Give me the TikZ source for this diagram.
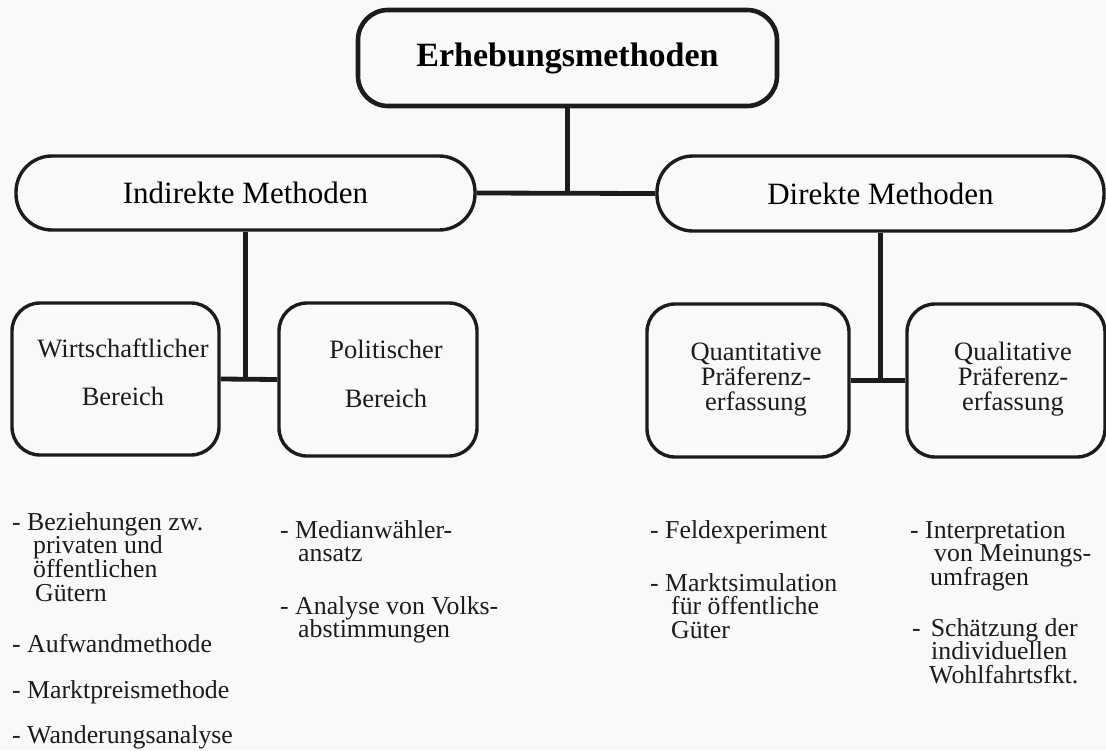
\documentclass[tikz,border=0pt]{standalone}
\usepackage{fontspec}
\setmainfont{Liberation Serif}
\definecolor{ink}{RGB}{28,28,28}
\definecolor{paper}{RGB}{249,249,247}
\newcommand\dfFont[2]{\fontsize{#1}{#2}\selectfont\lineskiplimit=-100pt\lineskip=0pt}
\newcommand\dfStrut{\rule{0pt}{24pt}}
\begin{document}
\begin{tikzpicture}[x=1pt,y=-1pt,
  box/.style={draw=ink, line width=3.4pt, rounded corners=28pt, inner sep=0pt},
  pill/.style={draw=ink, line width=3.4pt, rounded corners=36pt, inner sep=0pt, font=\dfFont{31}{31}},
  conn/.style={draw=ink, line width=4.8pt},
  boxtxt/.style={inner sep=0pt, anchor=north, align=center, text=ink},
  item/.style={inner sep=0pt, anchor=north west, align=left, text=ink, font=\dfFont{25.8}{23.6}}
]
\fill[paper] (0,0) rectangle (1106,750);
\useasboundingbox (0,0) rectangle (1106,750);

% top
\node[box, line width=4.6pt, rounded corners=30pt, minimum width=419pt, minimum height=96pt,
      font=\bfseries\dfFont{34}{34}] (top) at (567.5,58) {Erhebungsmethoden};

% second level
\node[pill, minimum width=459pt, minimum height=74pt] (ind) at (245.5,193) {Indirekte Methoden};
\node[pill, minimum width=447pt, minimum height=75pt] (dir) at (880.5,193.5) {Direkte Methoden};

% third level boxes
\node[box, minimum width=207pt, minimum height=152pt] (wb) at (115.5,379) {};
\node[box, minimum width=198pt, minimum height=153pt] (pb) at (378,379.5) {};
\node[box, minimum width=202pt, minimum height=153pt] (qb) at (748,380.5) {};
\node[box, minimum width=198pt, minimum height=153pt] (lb) at (1006,380.5) {};

\node[boxtxt, font=\dfFont{26.5}{48}] (wt) at (123,333) {\dfStrut Wirtschaftlicher\\Bereich};
\node[boxtxt, font=\dfFont{26.5}{49}] (pt) at (386,334) {\dfStrut Politischer\\Bereich};
\node[boxtxt, font=\dfFont{26.5}{25}] (qt) at (756,336) {\dfStrut Quantitative\\Präferenz-\\erfassung};
\node[boxtxt, font=\dfFont{26.5}{25}] (lt) at (1013,336) {\dfStrut Qualitative\\Präferenz-\\erfassung};

% connectors
\draw[conn] (ind.east) -- (dir.west);
\draw[conn] (top.south) -- (top.south |- ind.east);
\draw[conn] (wb.east) -- (pb.west);
\draw[conn] (ind.south) -- (ind.south |- wb.east);
\draw[conn] (qb.east) -- (lb.west);
\draw[conn] (dir.south) -- (dir.south |- qb.east);

% lists
\node[item] (l1) at (12,506) {\dfStrut- Beziehungen zw.\\\hspace*{21pt}privaten und\\\hspace*{21pt}öffentlichen\\\hspace*{23pt}Gütern};
\node[item] (l2) at (12,628) {\dfStrut- Aufwandmethode};
\node[item] (l3) at (12,674) {\dfStrut- Marktpreismethode};
\node[item] (l4) at (12,719) {\dfStrut- Wanderungsanalyse};

\node[item] (m1) at (280,514) {\dfStrut- Medianwähler-\\\hspace*{18pt}ansatz};
\node[item] (m2) at (280,590) {\dfStrut- Analyse von Volks-\\\hspace*{18pt}abstimmungen};

\node[item] (r1) at (650,514) {\dfStrut- Feldexperiment};
\node[item] (r2) at (650,567) {\dfStrut- Marktsimulation\\\hspace*{21pt}für öffentliche\\\hspace*{21pt}Güter};

\node[item] (s1) at (910,514) {\dfStrut- Interpretation\\\hspace*{24pt}von Meinungs-\\\hspace*{20pt}umfragen};
\node[item] (s2) at (912,612) {\dfStrut-\hspace*{10pt}Schätzung der\\\hspace*{19pt}individuellen\\\hspace*{17pt}Wohlfahrtsfkt.};
\end{tikzpicture}
\end{document}
